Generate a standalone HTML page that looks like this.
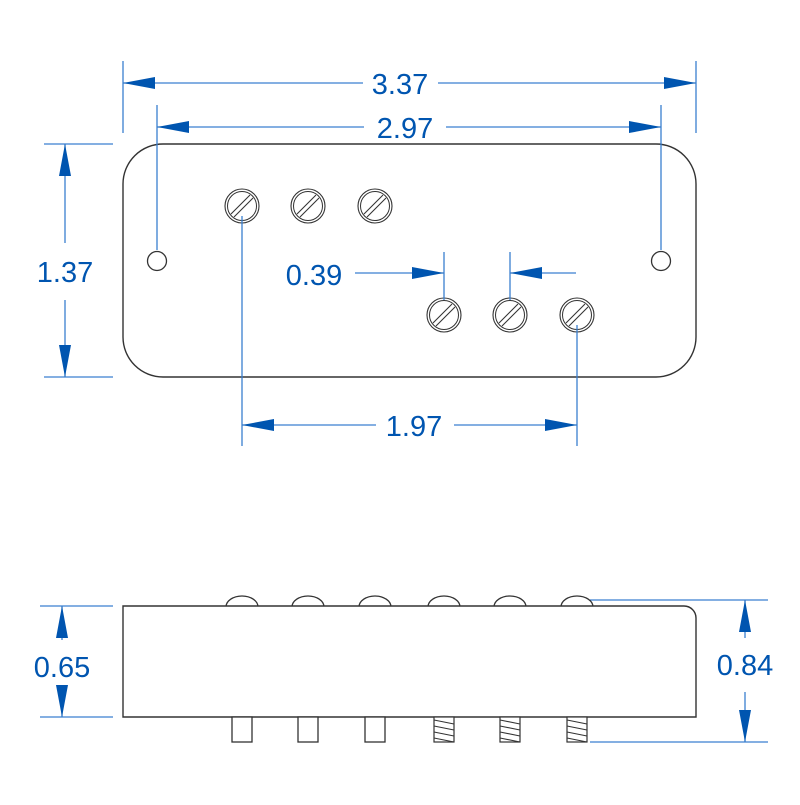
<!DOCTYPE html>
<html><head><style>html,body{margin:0;padding:0;background:#fff}</style></head><body>
<svg width="800" height="800" viewBox="0 0 800 800" xmlns="http://www.w3.org/2000/svg">
<defs>
<marker id="a" viewBox="0 0 32 12" refX="32" refY="6" markerWidth="32" markerHeight="12" markerUnits="userSpaceOnUse" orient="auto-start-reverse"><path d="M0,0 L32,6 L0,12 Z" fill="#0055b0"/></marker>
<g id="scr"><circle r="17" fill="#fff" stroke="#333" stroke-width="1.1"/><circle r="14.5" fill="none" stroke="#333" stroke-width="1"/><line x1="-11" y1="8" x2="8" y2="-11" stroke="#333" stroke-width="1.1"/><line x1="-8" y1="11" x2="11" y2="-8" stroke="#333" stroke-width="1.1"/></g>
<g id="thr"><rect x="-10" y="0" width="20" height="25" fill="#fff" stroke="#333" stroke-width="1.2"/><path d="M-10,3 L10,7 M-10,9 L10,13 M-10,15 L10,19 M-10,21 L10,25" stroke="#333" stroke-width="1.1"/></g>
</defs>
<rect x="123" y="144" width="573" height="233" rx="40" fill="#fff" stroke="#333" stroke-width="1.4"/>
<circle cx="157" cy="261" r="9.5" fill="#fff" stroke="#333" stroke-width="1.3"/>
<circle cx="661" cy="261" r="9.5" fill="#fff" stroke="#333" stroke-width="1.3"/>
<use href="#scr" x="242" y="206"/><use href="#scr" x="308" y="206"/><use href="#scr" x="375" y="206"/>
<use href="#scr" x="444" y="315"/><use href="#scr" x="510" y="315"/><use href="#scr" x="577" y="315"/>
<g stroke="#3a7fd0" stroke-width="1.3" fill="none">
<line x1="123" y1="61" x2="123" y2="133"/><line x1="696" y1="61" x2="696" y2="133"/>
<line x1="123" y1="83" x2="363" y2="83" marker-start="url(#a)"/><line x1="438" y1="83" x2="696" y2="83" marker-end="url(#a)"/>
<line x1="157" y1="105" x2="157" y2="250"/><line x1="661" y1="105" x2="661" y2="250"/>
<line x1="157" y1="127" x2="364" y2="127" marker-start="url(#a)"/><line x1="446" y1="127" x2="661" y2="127" marker-end="url(#a)"/>
<line x1="44" y1="144" x2="113" y2="144"/><line x1="44" y1="377" x2="113" y2="377"/>
<line x1="65" y1="144" x2="65" y2="243" marker-start="url(#a)"/><line x1="65" y1="300" x2="65" y2="377" marker-end="url(#a)"/>
<line x1="242" y1="216" x2="242" y2="446"/><line x1="577" y1="325" x2="577" y2="446"/>
<line x1="242" y1="425" x2="376" y2="425" marker-start="url(#a)"/><line x1="454" y1="425" x2="577" y2="425" marker-end="url(#a)"/>
<line x1="444" y1="252" x2="444" y2="300"/><line x1="510" y1="252" x2="510" y2="300"/>
<line x1="355" y1="273" x2="444" y2="273" marker-end="url(#a)"/><line x1="576" y1="273" x2="510" y2="273" marker-end="url(#a)"/>
<line x1="40" y1="606" x2="113" y2="606"/><line x1="40" y1="717" x2="113" y2="717"/>
<line x1="62" y1="606" x2="62" y2="640" marker-start="url(#a)"/><line x1="62" y1="688" x2="62" y2="717" marker-end="url(#a)"/>
<line x1="590" y1="600" x2="768" y2="600"/><line x1="590" y1="742" x2="768" y2="742"/>
<line x1="745" y1="600" x2="745" y2="638" marker-start="url(#a)"/><line x1="745" y1="692" x2="745" y2="742" marker-end="url(#a)"/>
</g>
<g fill="#fff" stroke="#333" stroke-width="1.3">
<path d="M226,607 A16,11 0 0 1 258,607"/><path d="M292,607 A16,11 0 0 1 324,607"/><path d="M359,607 A16,11 0 0 1 391,607"/>
<path d="M428,607 A16,11 0 0 1 460,607"/><path d="M494,607 A16,11 0 0 1 526,607"/><path d="M561,607 A16,11 0 0 1 593,607"/>
<path d="M123,717 L123,606 L684,606 A12,12 0 0 1 696,618 L696,717 Z" stroke-width="1.4"/>
<rect x="232" y="717" width="20" height="25"/><rect x="298" y="717" width="20" height="25"/><rect x="365" y="717" width="20" height="25"/>
</g>
<use href="#thr" x="444" y="717"/><use href="#thr" x="510" y="717"/><use href="#thr" x="577" y="717"/>
<g font-family="Liberation Sans, sans-serif" font-size="29" fill="#0055b0" text-anchor="middle">
<text x="400" y="94">3.37</text><text x="405" y="138">2.97</text>
<text x="65" y="282">1.37</text><text x="414" y="436">1.97</text>
<text x="314" y="285">0.39</text><text x="62" y="677">0.65</text><text x="745" y="675">0.84</text>
</g>
</svg>
</body></html>
